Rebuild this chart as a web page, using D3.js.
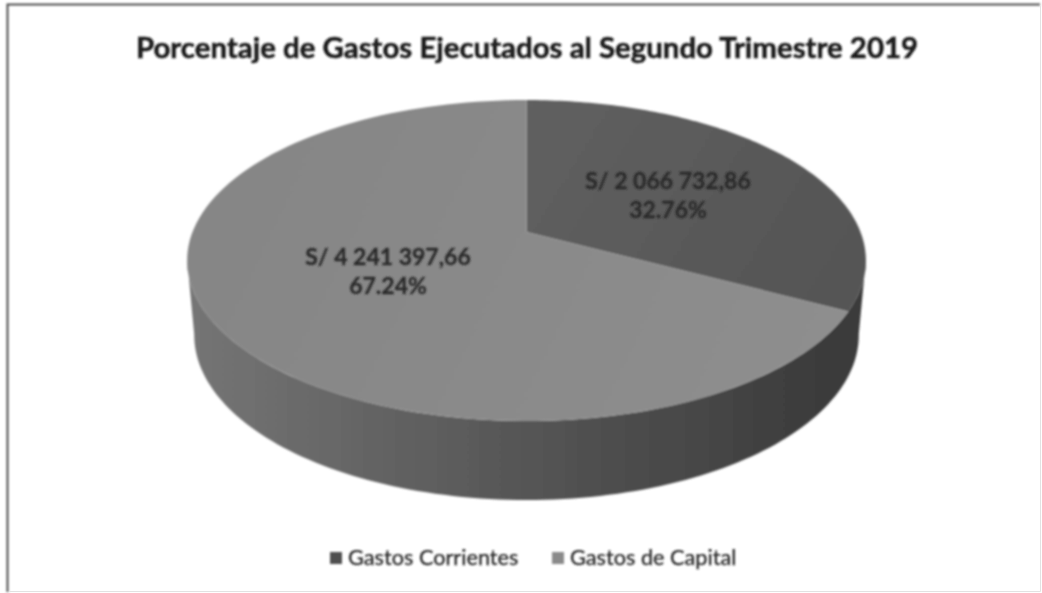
<!DOCTYPE html>
<html><head><meta charset="utf-8">
<script src="https://cdn.jsdelivr.net/npm/d3@7"></script>
<style>html,body{margin:0;padding:0;background:#fff}svg{display:block}</style>
</head><body><div id="c"></div>
<script>
const titleText = "Porcentaje de Gastos Ejecutados al Segundo Trimestre 2019";
const categories = ["Gastos Corrientes", "Gastos de Capital"];
const amounts = [2066732.86, 4241397.66];
const amountLabels = ["S/ 2 066 732,86", "S/ 4 241 397,66"];
const percentLabels = ["32.76%", "67.24%"];

const W = 1042, H = 593;
const svg = d3.select("#c").append("svg").attr("width", W).attr("height", H);
const defs = svg.append("defs");
const blur = defs.append("filter").attr("id", "scan").attr("x", "-5%").attr("y", "-5%").attr("width", "110%").attr("height", "110%");
blur.append("feGaussianBlur").attr("stdDeviation", 0.85);
const wallGrad = defs.append("linearGradient").attr("id", "wall").attr("gradientUnits", "userSpaceOnUse")
  .attr("x1", 187).attr("x2", 866).attr("y1", 0).attr("y2", 0);
[[0, "#757575"], [0.3, "#626262"], [0.55, "#525252"], [0.8, "#444444"], [0.95, "#3a3a3a"], [1, "#3a3a3a"]]
  .forEach(([o, c]) => wallGrad.append("stop").attr("offset", o).attr("stop-color", c));
const rightGrad = defs.append("linearGradient").attr("id", "right").attr("gradientUnits", "userSpaceOnUse")
  .attr("x1", 526).attr("x2", 866).attr("y1", 100).attr("y2", 310);
[[0, "#606060"], [1, "#545454"]].forEach(([o, c]) => rightGrad.append("stop").attr("offset", o).attr("stop-color", c));
const topGrad = defs.append("linearGradient").attr("id", "leftTop").attr("gradientUnits", "userSpaceOnUse")
  .attr("x1", 187).attr("x2", 866).attr("y1", 100).attr("y2", 420);
[[0, "#858585"], [1, "#8f8f8f"]].forEach(([o, c]) => topGrad.append("stop").attr("offset", o).attr("stop-color", c));

// frame
svg.append("path").attr("d", "M7.5 592V4.5H1040").attr("fill", "none").attr("stroke", "#4a4a4a").attr("stroke-width", 2).attr("filter", "url(#scan)");
svg.append("path").attr("d", "M9 591.5H1040.5V6").attr("fill", "none").attr("stroke", "#e2e2e2").attr("stroke-width", 1);

svg.append("text").attr("x", 527).attr("y", 58).attr("text-anchor", "middle")
  .attr("font-family", "Lato, Carlito, sans-serif").attr("font-weight", 700).attr("font-size", 29.4)
  .attr("fill", "#1a1a1a").attr("stroke", "#1a1a1a").attr("stroke-width", 0.5).attr("filter", "url(#scan)").text(titleText);

// perspective projection of a unit disc: angle (clockwise from top) -> screen
const projector = (cx, cy, a, b, k) => ang => {
  const ux = Math.sin(ang), uy = -Math.cos(ang), d = 1 + k * uy;
  return [cx + a * ux / d, (cy + b * uy) / d];
};
const persp = -0.1776;
const topP = projector(526.5, 232, 334, 114.2, persp);
const botP = projector(526.5, 305.7, 327, 105.5, persp);

const slices = d3.pie().sort(null).value(d => d)(amounts);
const line = d3.line();
const arcPts = (p, a0, a1) => d3.range(0, 121).map(i => p(a0 + (a1 - a0) * i / 120));

const pieG = svg.append("g").attr("filter", "url(#scan)");
// side wall: one continuous shaded band, darkening to the right
const wallStart = Math.PI * 0.5556, wallEnd = Math.PI * 1.4444;
pieG.append("path").attr("fill", "url(#wall)")
  .attr("d", line([...arcPts(topP, wallStart, wallEnd), ...arcPts(botP, wallEnd, wallStart)]) + "Z");

// top faces
const apex = [526.5, 232];
slices.forEach((s, i) => {
  pieG.append("path")
    .attr("fill", i === 0 ? "url(#right)" : "url(#leftTop)")
    .attr("d", line([apex, ...arcPts(topP, s.startAngle, s.endAngle)]) + "Z");
});

// data labels
const labelPos = [[668, 189, 218], [388, 265, 294]];
const labels = svg.append("g").attr("font-family", "Lato, Carlito, sans-serif").attr("font-weight", 700)
  .attr("font-size", 23).attr("fill", "#2a2a2a").attr("stroke", "#2a2a2a").attr("stroke-width", 0.3)
  .attr("text-anchor", "middle").attr("filter", "url(#scan)");
amountLabels.forEach((t, i) => {
  labels.append("text").attr("x", labelPos[i][0]).attr("y", labelPos[i][1]).text(t);
  labels.append("text").attr("x", labelPos[i][0]).attr("y", labelPos[i][2]).text(percentLabels[i]);
});

// legend
const legend = svg.append("g").attr("filter", "url(#scan)");
const legendX = [330, 552], legendText = [348, 570], swatch = ["#4f4f4f", "#8a8a8a"];
categories.forEach((c, i) => {
  legend.append("rect").attr("x", legendX[i]).attr("y", 552).attr("width", 12).attr("height", 12).attr("fill", swatch[i]);
  legend.append("text").attr("x", legendText[i]).attr("y", 565).attr("font-family", "Lato, Carlito, sans-serif")
    .attr("font-size", 21.7).attr("fill", "#222").attr("stroke", "#222").attr("stroke-width", 0.25).text(c);
});
</script></body></html>
